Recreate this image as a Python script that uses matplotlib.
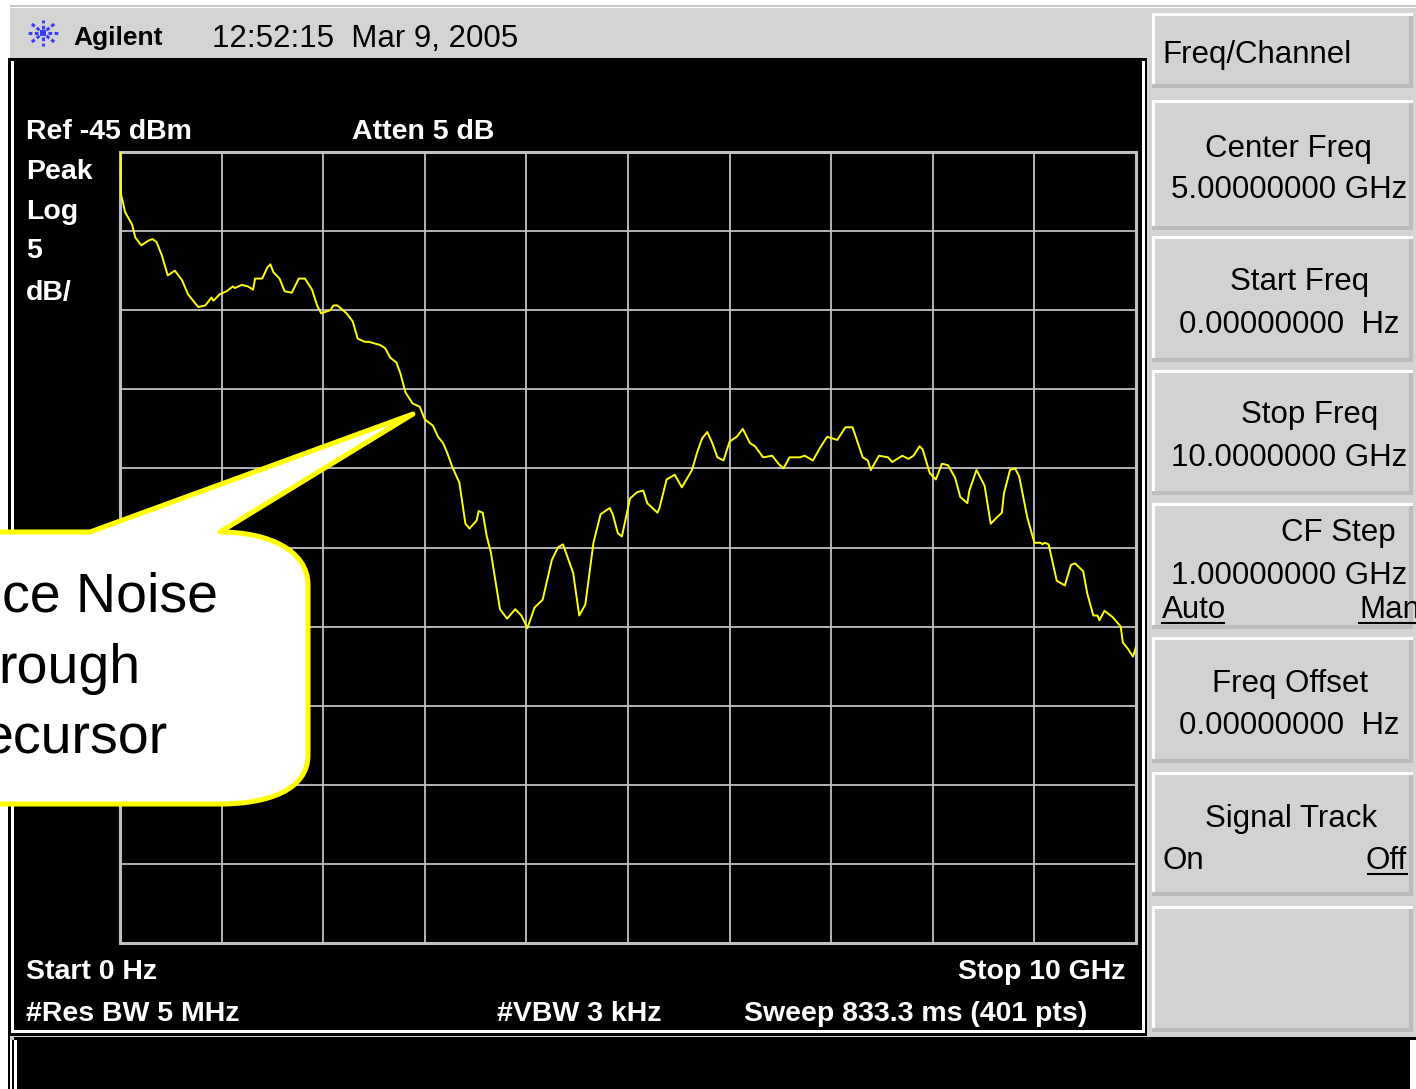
import numpy as np
import matplotlib.pyplot as plt
from matplotlib.patches import Rectangle, PathPatch
from matplotlib.path import Path

plt.rcParams['font.family'] = ['Liberation Sans', 'DejaVu Sans']

# trace readout, 0 - 10 GHz span, 5 dB/div from -45 dBm ref
freq_ghz = [0.00, 0.01, 0.03, 0.05, 0.12, 0.15, 0.21, 0.28, 0.32, 0.36,
            0.41, 0.47, 0.54, 0.61, 0.67, 0.77, 0.84, 0.90, 0.92, 0.98,
            1.05, 1.11, 1.13, 1.20, 1.26, 1.31, 1.33, 1.40, 1.45, 1.48,
            1.51, 1.57, 1.62, 1.69, 1.76, 1.82, 1.89, 1.94, 1.98, 2.07,
            2.10, 2.14, 2.23, 2.29, 2.34, 2.41, 2.45, 2.56, 2.61, 2.66,
            2.72, 2.76, 2.81, 2.88, 2.95, 3.00, 3.08, 3.13, 3.18, 3.22,
            3.27, 3.34, 3.40, 3.44, 3.51, 3.53, 3.57, 3.61, 3.65, 3.74,
            3.81, 3.89, 3.95, 4.01, 4.08, 4.16, 4.25, 4.31, 4.36, 4.46,
            4.52, 4.58, 4.66, 4.73, 4.82, 4.85, 4.90, 4.94, 5.02, 5.09,
            5.15, 5.19, 5.29, 5.31, 5.38, 5.46, 5.53, 5.63, 5.68, 5.73,
            5.78, 5.83, 5.88, 5.94, 6.00, 6.07, 6.13, 6.20, 6.25, 6.33,
            6.42, 6.48, 6.53, 6.59, 6.69, 6.74, 6.82, 6.89, 6.96, 7.06,
            7.14, 7.21, 7.31, 7.36, 7.39, 7.47, 7.56, 7.60, 7.70, 7.76,
            7.81, 7.87, 7.90, 7.97, 8.03, 8.09, 8.15, 8.22, 8.27, 8.34,
            8.36, 8.43, 8.51, 8.57, 8.63, 8.68, 8.70, 8.76, 8.81, 8.85,
            8.93, 9.00, 9.06, 9.08, 9.10, 9.14, 9.22, 9.30, 9.36, 9.40,
            9.48, 9.52, 9.58, 9.62, 9.64, 9.69, 9.77, 9.85, 9.87, 9.92,
            9.97, 10.00]
level_dbm = [-43.0, -47.7, -48.2, -48.8, -49.6, -50.4, -50.9, -50.6, -50.5, -50.7,
             -51.5, -52.8, -52.5, -53.1, -54.0, -54.8, -54.7, -54.2, -54.4, -54.0,
             -53.8, -53.5, -53.6, -53.4, -53.5, -53.7, -53.0, -53.0, -52.3, -52.1,
             -52.6, -53.0, -53.8, -53.9, -53.0, -53.0, -53.7, -54.7, -55.2, -55.0,
             -54.7, -54.7, -55.2, -55.7, -56.8, -57.0, -57.0, -57.2, -57.4, -58.0,
             -58.3, -59.0, -60.2, -60.9, -61.1, -61.9, -62.3, -63.0, -63.4, -64.0,
             -64.9, -65.9, -68.5, -68.8, -68.3, -67.7, -67.8, -69.3, -70.3, -73.9,
             -74.5, -73.9, -74.3, -75.1, -73.8, -73.3, -70.8, -70.0, -69.8, -71.6,
             -74.3, -73.6, -69.7, -67.9, -67.5, -67.9, -69.1, -69.3, -66.9, -66.5,
             -66.4, -67.2, -67.8, -67.5, -65.7, -65.4, -66.2, -65.1, -64.0, -63.1,
             -62.7, -63.4, -64.3, -64.5, -63.3, -63.0, -62.5, -63.4, -63.6, -64.3,
             -64.2, -64.7, -65.0, -64.3, -64.3, -64.2, -64.5, -63.7, -63.0, -63.2,
             -62.4, -62.4, -64.3, -64.5, -65.1, -64.2, -64.3, -64.6, -64.2, -64.4,
             -64.2, -63.6, -63.8, -65.3, -65.7, -64.7, -64.8, -65.6, -66.8, -67.2,
             -66.4, -65.1, -66.1, -68.5, -68.1, -67.8, -66.6, -65.1, -65.0, -65.5,
             -68.1, -69.7, -69.7, -69.8, -69.7, -69.8, -72.1, -72.4, -71.1, -71.0,
             -71.5, -72.9, -74.3, -74.3, -74.6, -74.0, -74.4, -75.0, -76.0, -76.4,
             -76.9, -76.3]

ref_level = -45
db_per_div = 5
span_ghz = 10

W, H = 1416, 1089
fig = plt.figure(figsize=(W / 100, H / 100), dpi=100, facecolor='white')

# instrument chrome, drawn in pixel coordinates
bg = fig.add_axes([0, 0, 1, 1])
bg.set_xlim(0, W)
bg.set_ylim(H, 0)
bg.axis('off')


def box(ax, x0, y0, x1, y1, color):
    ax.add_patch(Rectangle((x0, y0), x1 - x0, y1 - y0,
                           facecolor=color, edgecolor='none'))


box(bg, 1146, 8, W, 1040, '#d4d4d4')
box(bg, 10, 8, 1148, 58, '#d4d4d4')
box(bg, 10, 5, W, 7, '#c8c8c8')
box(bg, 8, 58, 1147, 1036, 'black')
box(bg, 11, 61, 1145, 1033, 'white')
box(bg, 14, 61, 1142, 1030, 'black')
box(bg, 10, 1036, 1146, 1040, '#cccccc')
box(bg, 14, 1037, W, 1040, 'black')
box(bg, 17, 1040, 1410, H, 'black')
box(bg, 1410, 1044, 1413, H, 'white')
box(bg, 8, 1036, 10, H, 'black')
box(bg, 12, 1040, 14, H, 'black')


def softkey(y0, y1):
    box(bg, 1152, y0, 1413, y1, '#d2d2d2')
    box(bg, 1152, y0, 1413, y0 + 3, 'white')
    box(bg, 1152, y0, 1155, y1, 'white')
    box(bg, 1152, y1 - 4, 1413, y1, '#bcbcbc')
    box(bg, 1409, y0 + 3, 1413, y1, '#bcbcbc')


for y0, y1 in [(13, 88), (100, 230), (236, 362), (370, 495), (503, 629),
               (637, 763), (772, 896), (906, 1032)]:
    softkey(y0, y1)

key_fs = 22.5
bg.text(1162, 63, 'Freq/Channel', fontsize=key_fs, va='baseline')
bg.text(1288, 157, 'Center Freq', fontsize=key_fs, ha='center', va='baseline')
bg.text(1289, 198, '5.00000000 GHz', fontsize=key_fs, ha='center', va='baseline')
bg.text(1300, 290, 'Start Freq', fontsize=key_fs, ha='center', va='baseline')
bg.text(1289, 333, '0.00000000  Hz', fontsize=key_fs, ha='center', va='baseline')
bg.text(1310, 423, 'Stop Freq', fontsize=key_fs, ha='center', va='baseline')
bg.text(1289, 466, '10.0000000 GHz', fontsize=key_fs, ha='center', va='baseline')
bg.text(1338, 541, 'CF Step', fontsize=key_fs, ha='center', va='baseline')
bg.text(1289, 584, '1.00000000 GHz', fontsize=key_fs, ha='center', va='baseline')
bg.text(1162, 618, 'Auto', fontsize=key_fs, va='baseline')
bg.text(1359, 618, 'Man', fontsize=key_fs, va='baseline')
bg.text(1290, 692, 'Freq Offset', fontsize=key_fs, ha='center', va='baseline')
bg.text(1289, 734, '0.00000000  Hz', fontsize=key_fs, ha='center', va='baseline')
bg.text(1291, 827, 'Signal Track', fontsize=key_fs, ha='center', va='baseline')
bg.text(1162, 869, 'On', fontsize=key_fs, va='baseline')
bg.text(1407, 869, 'Off', fontsize=key_fs, ha='right', va='baseline')
for x0, x1, y in [(1162, 1224, 623), (1359, 1416, 623), (1368, 1407, 874)]:
    bg.plot([x0, x1], [y, y], color='black', lw=1.5)

# logo and timestamp
cx, cy = 43, 33
for ang in np.deg2rad(np.arange(0, 360, 45)):
    r = np.array([5, 16])
    bg.plot(cx + r * np.cos(ang), cy + r * np.sin(ang) * 0.8,
            color='#3b3bff', lw=2.2, ls=(0, (1.2, 0.8)))
box(bg, cx - 3, cy - 3, cx + 3, cy + 3, '#3b3bff')
bg.text(73, 45, 'Agilent', fontsize=19, fontweight='bold', va='baseline')
bg.text(212, 47, '12:52:15  Mar 9, 2005', fontsize=22.5, va='baseline')

# annotation text on the screen
scr = dict(color='white', fontsize=20.5, fontweight='bold', va='baseline')
bg.text(26, 139, 'Ref -45 dBm', **scr)
bg.text(352, 139, 'Atten 5 dB', **scr)
bg.text(26, 179, 'Peak', **scr)
bg.text(26, 219, 'Log', **scr)
bg.text(26, 258, '5', **scr)
bg.text(26, 300, 'dB/', **scr)
bg.text(26, 979, 'Start 0 Hz', **scr)
bg.text(1125, 979, 'Stop 10 GHz', ha='right', **scr)
bg.text(26, 1021, '#Res BW 5 MHz', **scr)
bg.text(497, 1021, '#VBW 3 kHz', **scr)
bg.text(744, 1021, 'Sweep 833.3 ms (401 pts)', **scr)

# graticule and trace
ax = fig.add_axes([120 / W, 1 - 943 / H, 1016 / W, 791 / H])
ax.set_facecolor('black')
ax.plot(freq_ghz, level_dbm, color='#ffff00', lw=1.4, zorder=3)
ax.set_xlim(0, span_ghz)
ax.set_ylim(ref_level - 10 * db_per_div, ref_level)
ax.set_xticks(np.arange(0, span_ghz + 1, 1))
ax.set_yticks(np.arange(ref_level - 10 * db_per_div, ref_level + 1, db_per_div))
ax.grid(True, color='#c0c0c0', lw=1.3)
ax.tick_params(length=0, labelbottom=False, labelleft=False)
for s in ax.spines.values():
    s.set_color('#c0c0c0')
    s.set_linewidth(2.2)
    s.set_zorder(2)

# callout bubble
co = fig.add_axes([0, 0, 1, 1])
co.set_xlim(0, W)
co.set_ylim(H, 0)
co.axis('off')
co.patch.set_alpha(0)
verts = [(-30, 532), (90, 532), (413, 414), (220, 532),
         (268, 532), (308, 550), (308, 585),
         (308, 755),
         (308, 790), (268, 804), (220, 804),
         (-30, 804), (-30, 532)]
codes = [Path.MOVETO, Path.LINETO, Path.LINETO, Path.LINETO,
         Path.CURVE4, Path.CURVE4, Path.CURVE4,
         Path.LINETO,
         Path.CURVE4, Path.CURVE4, Path.CURVE4,
         Path.LINETO, Path.CLOSEPOLY]
co.add_patch(PathPatch(Path(verts, codes), facecolor='white',
                       edgecolor='#ffff00', lw=3.6, joinstyle='round'))
co.text(218, 612, 'ce Noise', fontsize=40, ha='right', va='baseline')
co.text(140, 683, 'rough', fontsize=40, ha='right', va='baseline')
co.text(168, 753, 'ecursor', fontsize=40, ha='right', va='baseline')

plt.savefig('out.png', dpi=100, facecolor='white')
